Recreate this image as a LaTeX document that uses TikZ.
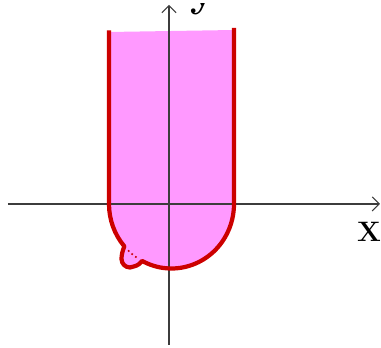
\documentclass[tikz,border=0pt]{standalone}
\usetikzlibrary{arrows.meta}
\definecolor{regionpink}{RGB}{255,153,255}
\definecolor{edgered}{RGB}{204,0,0}
\definecolor{axisgray}{RGB}{60,60,60}

\begin{document}
\begin{tikzpicture}[x=0.03cm, y=0.03cm,
    axis/.style={line width=0.9pt, axisgray, -{Straight Barb[length=6pt, width=12pt]}},
    edge/.style={line width=3.6pt, edgered, line join=round},
    axislabel/.style={font=\fontsize{24}{24}\selectfont\bfseries, inner sep=0pt, anchor=base}]
  \useasboundingbox (-169,-144) rectangle (212,204);
  % the region, with the bump on its lower left
  \fill[regionpink] (-60,172) -- (-60,0)
    arc[start angle=180, end angle=221, x radius=62.5, y radius=64.5]
    .. controls (-46.5,-47) and (-47.5,-51) .. (-47.5,-55)
    arc[start angle=180, end angle=300, radius=8.5]
    .. controls (-31,-61.5) and (-28.5,-59) .. (-26.84,-56.95)
    arc[start angle=242, end angle=360, x radius=62.5, y radius=64.5]
    -- (65,174) -- cycle;
  % the axes
  \coordinate (xstart) at (-161,0);
  \coordinate (xend) at (211,0);
  \coordinate (ystart) at (0,-141);
  \coordinate (yend) at (0,199);
  \draw[axis] (xstart) -- (xend);
  \draw[axis] (ystart) -- (yend);
  \node[axislabel] (xlabel) at (200,-38) {X};
  \begin{scope}
    \clip (0,-144) rectangle (212,200);
    \node[axislabel, anchor=base west, font=\fontsize{36}{36}\selectfont\bfseries]
      (ylabel) at (21,197.2) {y};
  \end{scope}
  % the boundary of the region
  \draw[edge] (-60,173.5) -- (-60,0)
    arc[start angle=180, end angle=221, x radius=62.5, y radius=64.5]
    .. controls (-46.5,-47) and (-47.5,-51) .. (-47.5,-55)
    arc[start angle=180, end angle=300, radius=8.5]
    .. controls (-31,-61.5) and (-28.5,-59) .. (-26.84,-56.95)
    arc[start angle=242, end angle=360, x radius=62.5, y radius=64.5]
    -- (65,176);
  % the old arc under the bump
  \draw[edgered, line width=1.4pt, dash pattern=on 1.4pt off 2.6pt] (2.5,0) ++(226:62.5 and 64.5)
    arc[start angle=226, end angle=237, x radius=62.5, y radius=64.5];
\end{tikzpicture}
\end{document}
